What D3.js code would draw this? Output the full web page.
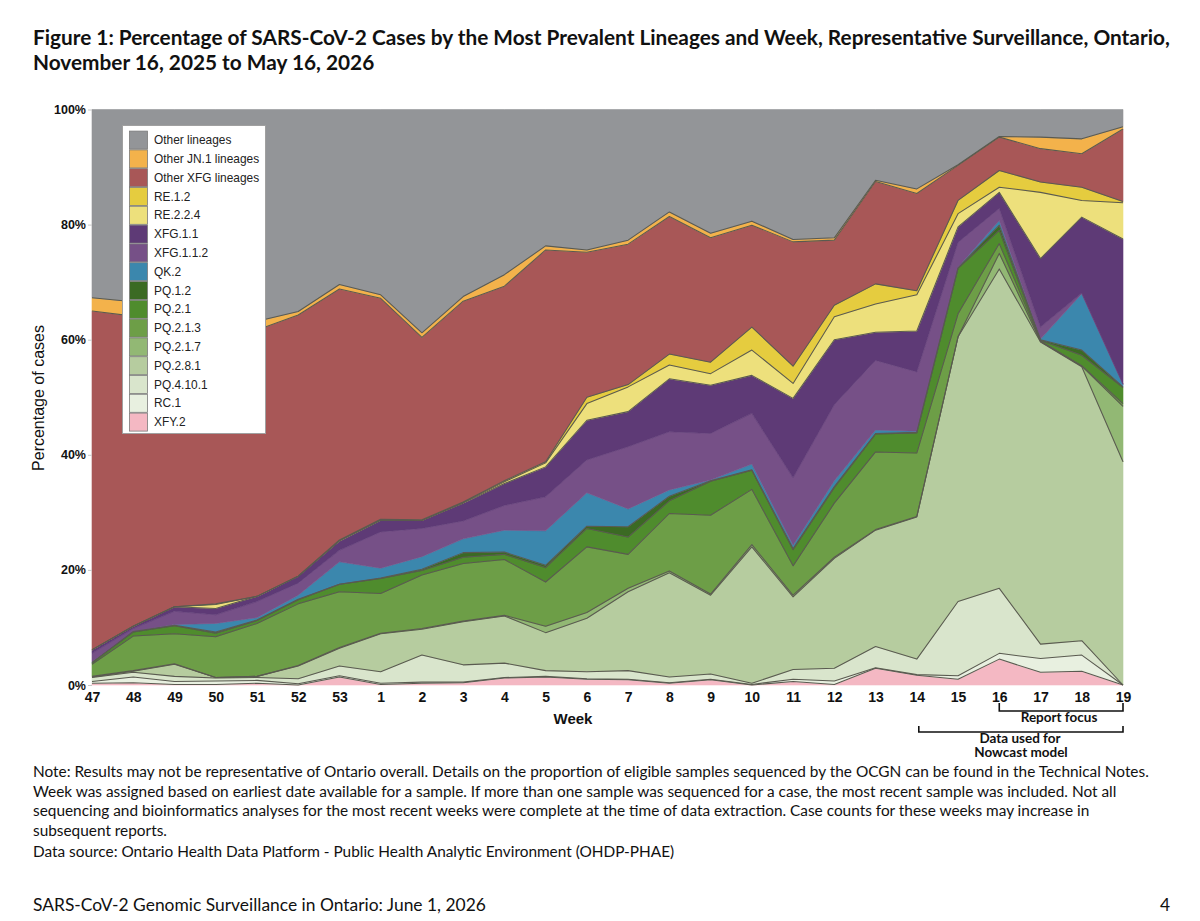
<!DOCTYPE html>
<html>
<head>
<meta charset="utf-8">
<script src="https://cdn.jsdelivr.net/npm/d3@7"></script>
<style>
  body { margin: 0; background: #fff; }
  svg { display: block; }
</style>
</head>
<body>
<svg id="c" width="1200" height="921"></svg>
<script>
// ---------------- DATA ----------------
const weeks = ["47","48","49","50","51","52","53","1","2","3","4","5","6","7","8","9","10","11","12","13","14","15","16","17","18","19"];

// percentages per week (bottom of stack first)
const XFY_2      = [0.3,0.4,0.1,0.1,0.3,0.0,1.4,0.1,0.3,0.4,1.2,1.4,1.0,0.9,0.3,0.9,0.0,0.6,0.1,2.9,1.7,1.0,4.5,2.2,2.4,0.0];
const RC_1       = [0.3,1.0,0.5,0.6,0.5,0.2,0.2,0.2,0.2,0.1,0.1,0.1,0.1,0.1,0.1,0.1,0.1,0.4,0.6,0.1,0.1,0.6,1.0,2.4,2.8,0.0];
const PQ_4_10_1  = [0.7,0.8,0.9,0.5,0.5,0.9,1.7,2.0,4.7,3.0,2.5,1.0,1.2,1.5,1.0,0.9,0.2,1.7,2.2,3.7,2.7,12.9,11.3,2.5,2.5,0.0];
const PQ_2_8_1   = [0.1,0.2,2.1,0.1,0.2,2.2,3.1,6.6,4.5,7.5,8.2,6.6,9.3,13.7,18.1,13.7,23.7,12.6,19.1,20.2,24.7,46.0,55.5,52.5,47.6,38.8];
const PQ_2_1_7   = [0.1,0.1,0.1,0.0,0.0,0.1,0.1,0.1,0.1,0.1,0.1,1.1,1.0,0.6,0.3,0.2,0.4,0.3,0.2,0.1,0.1,0.0,2.7,0.1,0.1,9.6];
const PQ_2_1_3   = [2.1,6.0,5.2,7.1,9.2,10.7,9.7,6.9,9.3,10.0,9.7,7.7,11.4,5.9,10.0,13.7,9.6,5.1,9.4,13.5,11.0,4.0,1.7,0.1,0.1,0.5];
const PQ_2_1     = [0.3,0.7,1.4,0.6,0.5,0.7,1.3,2.6,0.8,1.1,0.9,2.5,3.2,3.0,2.2,5.9,3.3,2.8,2.7,3.1,3.5,7.9,2.3,0.1,1.8,2.8];
const PQ_1_2     = [0.0,0.1,0.1,0.2,0.1,0.1,0.0,0.1,0.2,0.8,0.4,0.4,0.4,1.8,0.8,0.1,0.1,0.2,0.2,0.1,0.1,0.1,0.9,0.1,0.9,0.1];
const QK_2       = [0.1,0.0,0.1,1.5,0.4,0.7,3.9,1.7,2.2,2.4,3.8,6.0,5.8,3.1,1.1,0.1,1.0,0.6,1.0,0.6,0.2,0.1,0.8,0.1,9.8,0.4];
const XFG_1_1_2  = [1.5,0.5,2.3,1.5,2.8,2.1,2.0,6.3,4.9,3.1,4.3,5.9,5.7,10.8,10.1,8.1,8.8,11.7,13.2,12.1,10.3,4.3,2.1,2.1,0.1,0.1];
const XFG_1_1    = [0.6,0.4,0.8,1.1,0.9,1.2,1.6,2.0,1.4,3.1,3.8,5.2,6.9,6.1,9.2,8.4,6.6,13.8,11.3,4.9,7.1,2.7,2.8,11.9,13.2,25.2];
const RE_2_2_4   = [0.0,0.0,0.0,0.7,0.0,0.0,0.1,0.1,0.0,0.1,0.3,0.7,2.9,4.3,2.4,2.0,4.4,2.6,4.0,4.9,6.3,2.3,0.9,11.5,2.9,6.3];
const RE_1_2     = [0.0,0.0,0.0,0.1,0.0,0.0,0.1,0.1,0.1,0.1,0.2,0.2,1.1,0.4,1.9,2.0,4.0,3.0,2.0,3.5,0.7,2.3,2.9,1.8,2.3,0.2];
const OTHER_XFG  = [58.9,53.9,49.6,48.3,46.3,45.4,43.6,38.4,31.7,34.9,33.8,36.8,25.2,24.4,23.9,21.6,17.7,21.6,11.3,17.8,16.9,6.1,5.8,5.8,5.8,12.6];
const OTHER_JN1  = [2.3,2.5,1.8,1.6,1.5,0.6,0.8,0.6,0.8,0.8,2.0,0.7,0.4,0.7,0.8,0.8,0.7,0.4,0.4,0.2,0.8,0.1,0.1,2.0,2.6,0.4];
const OTHER      = [32.7,33.4,35.0,36.0,36.8,35.1,30.4,32.2,38.8,32.5,28.7,23.7,24.4,22.7,17.8,21.5,19.4,22.6,22.3,12.3,13.8,9.6,4.7,4.8,5.1,3.0];

const seriesKeys = ["XFY.2","RC.1","PQ.4.10.1","PQ.2.8.1","PQ.2.1.7","PQ.2.1.3","PQ.2.1","PQ.1.2","QK.2",
                    "XFG.1.1.2","XFG.1.1","RE.2.2.4","RE.1.2","Other XFG lineages","Other JN.1 lineages","Other lineages"];
const seriesValues = [XFY_2,RC_1,PQ_4_10_1,PQ_2_8_1,PQ_2_1_7,PQ_2_1_3,PQ_2_1,PQ_1_2,QK_2,
                      XFG_1_1_2,XFG_1_1,RE_2_2_4,RE_1_2,OTHER_XFG,OTHER_JN1,OTHER];
const seriesColors = ["#f4b8c3","#e8f0e0","#d9e5cc","#b6cc9f","#92b874","#6d9e47","#4f8c2d","#3b6a23","#3b87ad",
                      "#765087","#5e3a76","#ede07c","#e5cc3f","#a85757","#f3b24b","#939598"];
const noOutline = ["QK.2","XFG.1.1.2","Other lineages"];
const yTicks = [0,20,40,60,80,100];

const titleLines = [
  "Figure 1: Percentage of SARS-CoV-2 Cases by the Most Prevalent Lineages and Week, Representative Surveillance, Ontario,",
  "November 16, 2025 to May 16, 2026"
];
const noteLines = [
  "Note: Results may not be representative of Ontario overall. Details on the proportion of eligible samples sequenced by the OCGN can be found in the Technical Notes.",
  "Week was assigned based on earliest date available for a sample. If more than one sample was sequenced for a case, the most recent sample was included. Not all",
  "sequencing and bioinformatics analyses for the most recent weeks were complete at the time of data extraction. Case counts for these weeks may increase in",
  "subsequent reports.",
  "Data source: Ontario Health Data Platform - Public Health Analytic Environment (OHDP-PHAE)"
];
const footerText = "SARS-CoV-2 Genomic Surveillance in Ontario: June 1, 2026";
const pageNumber = "4";

// ---------------- CHART ----------------
const svg = d3.select("#c");
const docFont = "Lato, 'Noto Sans', sans-serif";
const chartFont = "'Liberation Sans', Arial, sans-serif";

const x = d3.scalePoint().domain(weeks).range([92, 1123]);
const y = d3.scaleLinear().domain([0, 100]).range([685, 109.5]);

const rows = weeks.map((w, i) => {
  const r = { week: w };
  seriesKeys.forEach((k, j) => { r[k] = seriesValues[j][i]; });
  return r;
});
const layers = d3.stack().keys(seriesKeys)(rows);
const colorOf = d3.scaleOrdinal().domain(seriesKeys).range(seriesColors);

const area = d3.area().x(d => x(d.data.week)).y0(d => y(d[0])).y1(d => y(d[1]));
const topLine = d3.line().x(d => x(d.data.week)).y(d => y(d[1]));

const plot = svg.append("g");
plot.selectAll("path.area").data(layers).join("path")
  .attr("class", "area")
  .attr("d", area)
  .attr("fill", d => colorOf(d.key))
  .attr("stroke", d => colorOf(d.key))
  .attr("stroke-width", 0.6);

plot.selectAll("path.edge").data(layers.filter(l => !noOutline.includes(l.key))).join("path")
  .attr("class", "edge")
  .attr("d", topLine)
  .attr("fill", "none")
  .attr("stroke", "#5a5a50")
  .attr("stroke-width", 1.05)
  .attr("stroke-linejoin", "round");

// Y axis
const yAxis = svg.append("g").attr("transform", "translate(92,0)")
  .call(d3.axisLeft(y).tickValues(yTicks).tickSize(4).tickPadding(2).tickFormat(d => d + "%"));
yAxis.select(".domain").remove();
yAxis.selectAll(".tick line").attr("stroke", "#c8c8c8");
yAxis.selectAll("text").attr("font-family", chartFont).attr("font-size", 12.5)
  .attr("font-weight", "bold").attr("fill", "#111");

// X axis
const xAxis = svg.append("g").attr("transform", "translate(0,685)")
  .call(d3.axisBottom(x).tickSize(0).tickPadding(7));
xAxis.select(".domain").remove();
xAxis.selectAll("text").attr("font-family", chartFont).attr("font-size", 14)
  .attr("font-weight", "bold").attr("fill", "#111");

// Axis titles
svg.append("text").attr("x", 573).attr("y", 724).attr("text-anchor", "middle")
  .attr("font-family", chartFont).attr("font-size", 15).attr("font-weight", "bold")
  .attr("fill", "#111").text("Week");
svg.append("text").attr("transform", "translate(44,398) rotate(-90)").attr("text-anchor", "middle")
  .attr("font-family", chartFont).attr("font-size", 16).attr("fill", "#111")
  .text("Percentage of cases");

// Legend
const legendKeys = seriesKeys.slice().reverse();
const lg = svg.append("g");
lg.append("rect").attr("x", 122.5).attr("y", 125.5).attr("width", 143).attr("height", 308)
  .attr("fill", "#fff").attr("stroke", "#a0a0a0").attr("stroke-width", 1);
const rowH = 18.8;
legendKeys.forEach((k, i) => {
  const yy = 130.7 + i * rowH;
  lg.append("rect").attr("x", 129.5).attr("y", yy + 0.4).attr("width", 18).attr("height", rowH - 0.8)
    .attr("fill", colorOf(k)).attr("stroke", "#7a7a7a").attr("stroke-width", 0.8);
  lg.append("text").attr("x", 154).attr("y", yy + rowH / 2).attr("dy", "0.35em")
    .attr("font-family", chartFont).attr("font-size", 11.9).attr("fill", "#222").text(k);
});

// Brackets
const br = svg.append("g").attr("fill", "none").attr("stroke", "#111").attr("stroke-width", 1.6);
br.append("path").attr("d", `M${x("16")},703 V711 H${x("19")} V703`);
br.append("path").attr("d", `M${x("14") + 2},726 V732 H${x("19")} V726`);
const annFont = { "font-family": docFont, "font-size": 13.5, "font-weight": "bold", "fill": "#111" };
function addText(t, xx, yy, anchor, attrs) {
  const el = svg.append("text").attr("x", xx).attr("y", yy).attr("text-anchor", anchor).text(t);
  Object.entries(attrs).forEach(([a, v]) => el.attr(a, v));
  return el;
}
addText("Report focus", 1059, 722, "middle", annFont);
addText("Data used for", 1020, 743, "middle", annFont);
addText("Nowcast model", 1021, 757, "middle", annFont);

// Title (fit to reference width)
const t1 = addText(titleLines[0], 33, 45, "start", { "font-family": docFont, "font-size": 20, "font-weight": "bold", "fill": "#111" });
const tw = t1.node().getComputedTextLength();
const tSize = 20 * 1137 / tw;
t1.attr("font-size", tSize);
addText(titleLines[1], 33, 69.5, "start", { "font-family": docFont, "font-size": tSize, "font-weight": "bold", "fill": "#111" });

// Notes
const noteY = [777, 796.5, 816, 835.5, 857];
const n1 = addText(noteLines[0], 33, noteY[0], "start", { "font-family": docFont, "font-size": 15, "fill": "#111" });
const nSize = 15 * 1117 / n1.node().getComputedTextLength();
n1.attr("font-size", nSize);
noteLines.slice(1).forEach((l, i) => {
  addText(l, 33, noteY[i + 1], "start", { "font-family": docFont, "font-size": nSize, "fill": "#111" });
});

// Footer
const f1 = addText(footerText, 33, 911, "start", { "font-family": docFont, "font-size": 17, "fill": "#111" });
const fSize = 17 * 453 / f1.node().getComputedTextLength();
f1.attr("font-size", fSize);
addText(pageNumber, 1170, 911, "end", { "font-family": docFont, "font-size": fSize, "fill": "#111" });
</script>
</body>
</html>
